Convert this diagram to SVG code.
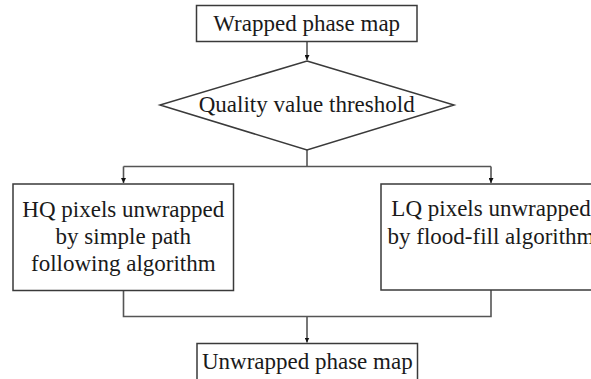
<svg xmlns="http://www.w3.org/2000/svg" width="591" height="379" viewBox="0 0 591 379">
<defs>
<style>
.box{fill:#fff;stroke:#3a3a3a;stroke-width:1.5}
.lbl{font-family:"Liberation Serif","Times New Roman",serif;font-size:23px;fill:#1a1a1a;text-anchor:middle}
.con{fill:none;stroke:#555;stroke-width:1.6}
</style>
<marker id="ah" viewBox="0 0 10 10" refX="10" refY="5" markerWidth="5" markerHeight="5" markerUnits="userSpaceOnUse" orient="auto">
<path d="M0,0 L10,5 L0,10 z" fill="#111"/>
</marker>
</defs>
<rect width="591" height="379" fill="#fff"/>
<g id="connectors">
<path class="con" d="M307,42 V60" marker-end="url(#ah)"/>
<path class="con" d="M307,150 V166.5"/>
<path class="con" d="M123.5,166.5 H491"/>
<path class="con" d="M123.5,166.5 V183" marker-end="url(#ah)"/>
<path class="con" d="M491,166.5 V183" marker-end="url(#ah)"/>
<path class="con" d="M123.5,291 V316.5 H491 V290"/>
<path class="con" d="M307,316.5 V342.5" marker-end="url(#ah)"/>
</g>
<g id="wrapped">
<rect class="box" x="196.5" y="5.5" width="220.5" height="36"/>
<text class="lbl" x="306.7" y="31">Wrapped phase map</text>
</g>
<g id="threshold">
<polygon class="box" points="307,61 454,105 307,150 160,105"/>
<text class="lbl" x="306.7" y="112">Quality value threshold</text>
</g>
<g id="hq">
<rect class="box" x="13" y="184" width="220.5" height="106.5"/>
<text class="lbl" x="123.3" y="217">HQ pixels unwrapped</text>
<text class="lbl" x="123.3" y="244">by simple path</text>
<text class="lbl" x="123.3" y="271">following algorithm</text>
</g>
<g id="lq">
<rect class="box" x="381" y="184" width="220.5" height="106"/>
<text class="lbl" x="491" y="216">LQ pixels unwrapped</text>
<text class="lbl" x="491" y="243.5">by flood-fill algorithm</text>
</g>
<g id="unwrapped">
<rect class="box" x="197" y="343.5" width="220.5" height="37"/>
<text class="lbl" x="307.3" y="369">Unwrapped phase map</text>
</g>
</svg>
